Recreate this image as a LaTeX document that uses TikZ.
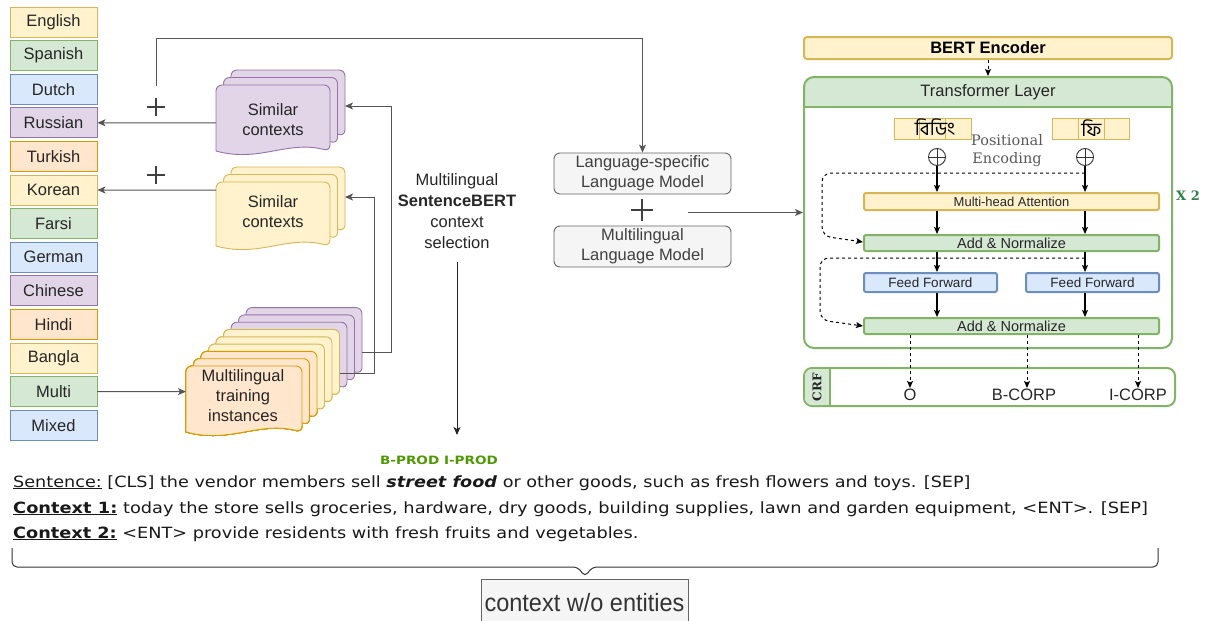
\documentclass[tikz,border=0pt]{standalone}
\usepackage{fontspec}
\setmainfont{Liberation Sans}
\newfontfamily\dvsans{DejaVu Sans}
\newfontfamily\dvserif{DejaVu Serif}
\newfontfamily\bangla[Script=Bengali]{Hind Siliguri}
\usetikzlibrary{arrows.meta}

\definecolor{yF}{HTML}{FFF2CC}\definecolor{yD}{HTML}{D6B656}
\definecolor{gF}{HTML}{D5E8D4}\definecolor{gD}{HTML}{82B366}
\definecolor{bF}{HTML}{DAE8FC}\definecolor{bD}{HTML}{6C8EBF}
\definecolor{pF}{HTML}{E1D5E7}\definecolor{pD}{HTML}{9673A6}
\definecolor{oF}{HTML}{FFE6CC}\definecolor{oD}{HTML}{D79B00}
\definecolor{lmF}{HTML}{F5F5F5}\definecolor{lmD}{HTML}{666666}
\definecolor{wire}{HTML}{555555}
\definecolor{tagG}{HTML}{4D9900}
\definecolor{xtwo}{HTML}{2D7D46}

\newcommand\fsz[2]{\fontsize{#1}{#2}\selectfont}

% one sheet of a document stack: x, y, width, height, fill, border
\newcommand\docsheet[6]{%
  \filldraw[fill=#5,draw=#6,line width=0.9pt]
    (#1,#2+#4-4) [rounded corners=6] -- (#1,#2) -- (#1+#3,#2) -- (#1+#3,#2+#4-4) [sharp corners]
    .. controls (#1+0.62*#3,#2+#4-15) and (#1+0.38*#3,#2+#4+8) .. (#1,#2+#4-4) -- cycle;
}

\begin{document}
\begin{tikzpicture}[x=1pt,y=-1pt,
  lang/.style={minimum width=87pt,minimum height=30pt,inner sep=0pt,line width=0.9pt,
    font=\fsz{16.5}{19},text=black!85},
  doctext/.style={align=center,font=\fsz{16.5}{20},text=black!85,inner sep=0pt},
  conn/.style={draw=wire,line width=1pt,-{Stealth[length=8pt,width=7pt,inset=2pt]}},
  lmbox/.style={draw=lmD,fill=lmF,rounded corners=6pt,minimum width=177pt,minimum height=41pt,
    inner sep=0pt,align=center,font=\fsz{16.5}{20},text=black!75,line width=0.9pt},
  barbox/.style={minimum width=295pt,inner sep=0pt,rounded corners=2pt,line width=2pt},
  ffbox/.style={draw=bD,fill=bF,line width=2pt,rounded corners=2pt,minimum width=133pt,minimum height=19pt,
    inner sep=0pt,font=\fsz{13.5}{15},text=black!85},
  tarr/.style={draw=black,line width=1.1pt,-{Stealth[length=7pt,width=6pt,inset=1.5pt]}},
  dasharr/.style={draw=black,line width=1pt,dashed,-{Stealth[length=7pt,width=6pt,inset=1.5pt]}},
  cell/.style={draw=yD,fill=yF,minimum width=25.7pt,minimum height=21pt,inner sep=0pt,line width=1pt},
  plusmark/.style={draw=black!75,line width=1.4pt},
  sentline/.style={anchor=base west,inner sep=0pt,font=\dvsans\fsz{15.5}{17},text=black!90}
]
\useasboundingbox (0,0) rectangle (1205,621);

% ---------------- language column ----------------
\foreach \nm/\col [count=\i from 0] in {English/y,Spanish/g,Dutch/b,Russian/p,Turkish/o,Korean/y,
    Farsi/g,German/b,Chinese/p,Hindi/o,Bangla/y,Multi/g,Mixed/b}
  \node[lang,fill=\col F,draw=\col D] (L\nm) at (53.5,22+33.6*\i) {\nm};

% ---------------- document stacks ----------------
\foreach \k in {2,1,0} \docsheet{216+7.5*\k}{85-7.5*\k}{114}{70}{pF}{pD}
\node[doctext] (simP) at (273,120) {Similar\\contexts};
\foreach \k in {2,1,0} \docsheet{216+7.5*\k}{182-7.5*\k}{114}{68}{yF}{yD}
\node[doctext] (simY) at (273,212) {Similar\\contexts};

\foreach \k in {8,7,6} \docsheet{186+7.5*\k}{366-7.3*\k}{116}{70}{pF}{pD}
\foreach \k in {5,4,3} \docsheet{186+7.5*\k}{366-7.3*\k}{116}{70}{yF}{yD}
\foreach \k in {2,1,0} \docsheet{186+7.5*\k}{366-7.3*\k}{116}{70}{oF}{oD}
\node[doctext] (train) at (243,396) {Multilingual\\training\\instances};

\coordinate (simP-w) at (216,122.8);
\coordinate (simP-e) at (345,106);
\coordinate (simY-w) at (216,190);
\coordinate (simY-e) at (345,197);
\coordinate (train-w) at (186,391.6);
\coordinate (train-e1) at (362,352);
\coordinate (train-e2) at (340,373);
\coordinate (plusTop) at (156,86);

\draw[conn] (simP-w) -- (LRussian.east);
\draw[conn] (simY-w) -- (LKorean.east);
\draw[conn] (LMulti.east) -- (train-w);
\draw[conn] (train-e1) -- (391,352) |- (simP-e);
\draw[conn] (train-e2) -- (374,373) |- (simY-e);

\draw[plusmark] (147,107) -- (165,107) (156,98) -- (156,116);
\draw[plusmark] (147,175) -- (165,175) (156,166) -- (156,184);

% ---------------- sentence selection ----------------
\node[align=center,font=\fsz{16.5}{21},text=black!85] (msb) at (457,211)
  {Multilingual\\\textbf{SentenceBERT}\\context\\selection};
\coordinate (selEnd) at (457,435);
\draw[conn,draw=black!85] (457,262) -- (selEnd);

% ---------------- language models ----------------
\node[lmbox] (LMspec) at (642.5,173.5) {Language-specific\\Language Model};
\node[lmbox] (LMmulti) at (642.5,246.5) {Multilingual\\Language Model};
\draw[plusmark] (631,210) -- (653,210) (642,199) -- (642,221);
\draw[conn] (plusTop) -- (156,38) -| (LMspec.north);

% ---------------- BERT encoder / transformer ----------------
\node[draw=yD,fill=yF,line width=2pt,rounded corners=3pt,minimum width=368pt,minimum height=22pt,
  inner sep=0pt,font=\fsz{16.5}{19}\bfseries] (bert) at (988,48) {BERT Encoder};

\fill[gF,rounded corners=10pt] (804,77) rectangle (1172,107);
\fill[gF] (804,96) rectangle (1172,107);
\draw[gD,line width=1.6pt] (804,107) -- (1172,107);
\node[draw=gD,line width=2pt,rounded corners=10pt,minimum width=368pt,minimum height=271pt,inner sep=0pt]
  (TL) at (988,212.5) {};
\node[font=\fsz{16.5}{19},text=black!85] (TLtitle) at (988,92) {Transformer Layer};

\coordinate (lmOut) at (688,212.5);
\draw[conn] (lmOut) -- (TL.west);
\draw[dasharr] (bert.south) -- (TL.north);

% tokens
\node[cell] (t1a) at (907,128.5) {};
\node[cell] (t1b) at (932.7,128.5) {};
\node[cell] (t1c) at (958.4,128.5) {};
\node[font=\bangla\fsz{19}{20},inner sep=0pt] (w1) at (935,127) {বিডিং};
\node[cell] (t2a) at (1065.7,128.5) {};
\node[cell] (t2b) at (1091.4,128.5) {};
\node[cell] (t2c) at (1117.1,128.5) {};
\node[font=\bangla\fsz{19}{20},inner sep=0pt] (w2) at (t2b) {ফি};

% positional encoding
\foreach \nm/\xx in {pe1/937,pe2/1085}{
  \node[draw=black!80,circle,minimum size=17pt,inner sep=0pt,line width=0.9pt] (\nm) at (\xx,157) {};
  \draw[black!80,line width=0.9pt] (\nm.north) -- (\nm.south) (\nm.west) -- (\nm.east);
}
\node[align=center,font=\dvserif\fsz{14.5}{18},text=black!65] (peText) at (1007,151) {Positional\\Encoding};

% encoder blocks
\node[barbox,draw=yD,fill=yF,minimum height=17pt,font=\fsz{13}{15},text=black!85] (mha) at (1011.5,201.5) {Multi-head Attention};
\node[barbox,draw=gD,fill=gF,minimum height=16pt,font=\fsz{14.5}{16},text=black!85] (an1) at (1011.5,243) {Add \& Normalize};
\node[ffbox] (ff1) at (930.5,282.5) {Feed Forward};
\node[ffbox] (ff2) at (1092.5,282.5) {Feed Forward};
\node[barbox,draw=gD,fill=gF,minimum height=16pt,font=\fsz{14.5}{16},text=black!85] (an2) at (1011.5,326) {Add \& Normalize};

% residual paths
\draw[dasharr,rounded corners=9pt] (pe2.south |- 0,173) -- (822,173) -- (822,236) -- (an1.west |- 0,242);
\draw[dasharr,rounded corners=9pt] (1085,258) -- (820,258) -- (820,320) -- (an2.west |- 0,326);

\draw[tarr] (pe1.south) -- (pe1.south |- mha.north);
\draw[tarr] (pe2.south) -- (pe2.south |- mha.north);
\draw[tarr] (mha.south -| pe1) -- (an1.north -| pe1);
\draw[tarr] (mha.south -| pe2) -- (an1.north -| pe2);
\draw[tarr] (an1.south -| pe1) -- (ff1.north -| pe1);
\draw[tarr] (an1.south -| pe2) -- (ff2.north -| pe2);
\draw[tarr] (ff1.south -| pe1) -- (an2.north -| pe1);
\draw[tarr] (ff2.south -| pe2) -- (an2.north -| pe2);

\node[font=\dvserif\bfseries\fsz{13}{15},text=xtwo] (x2) at (1188,196) {X 2};

% CRF
\node[draw=gD,line width=2pt,rounded corners=8pt,minimum width=371pt,minimum height=38pt,inner sep=0pt]
  (crf) at (989.5,387) {};
\fill[gF,rounded corners=7pt] (805,369) rectangle (830,405);
\fill[gF] (818,369) rectangle (830,405);
\draw[gD,line width=1.6pt] (830,368) -- (830,406);
\node[rotate=90,font=\dvserif\bfseries\fsz{12}{14},text=black!85] (crfText) at (817,387) {CRF};

\node[font=\fsz{16.5}{19},text=black!85] (oO) at (910,395) {O};
\node[font=\fsz{16.5}{19},text=black!85] (oB) at (1024,395) {B-CORP};
\node[font=\fsz{16.5}{19},text=black!85] (oI) at (1138,395) {I-CORP};
\draw[dasharr] (an2.south -| oO) -- (910,388);
\draw[dasharr] (an2.south -| 1027,0) -- (1027,388);
\draw[dasharr] (an2.south -| oI) -- (1138,388);

% ---------------- example sentences ----------------
\node[font=\dvsans\bfseries\fsz{11.5}{13},text=tagG] (tags) at (439,460) {\scalebox{1.18}[1]{B-PROD I-PROD}};
\node[sentline] (s1) at (13,487)
  {\scalebox{1.137}[1]{\underline{Sentence:} [CLS] the vendor members sell \textbf{\textit{street food}} or other goods, such as fresh flowers and toys. [SEP]}};
\node[sentline] (s2) at (13,513)
  {\scalebox{1.148}[1]{\underline{\textbf{Context 1:}} today the store sells groceries, hardware, dry goods, building supplies, lawn and garden equipment, <ENT>. [SEP]}};
\node[sentline] (s3) at (13,538)
  {\scalebox{1.141}[1]{\underline{\textbf{Context 2:}} <ENT> provide residents with fresh fruits and vegetables.}};

% brace and summary box
\draw[black!80,line width=1pt,rounded corners=5pt]
  (12,548) -- (12,567) -- (578,567) -- (585,577) -- (592,567) -- (1158,567) -- (1158,548);
\node[draw=lmD,fill=lmF,minimum width=207pt,minimum height=46pt,inner sep=0pt,anchor=north,line width=0.9pt,
  font=\fsz{25}{27},text=black!80] (ctx) at (584.5,579) {\scalebox{0.94}[1]{context w/o entities}};
\end{tikzpicture}
\end{document}
